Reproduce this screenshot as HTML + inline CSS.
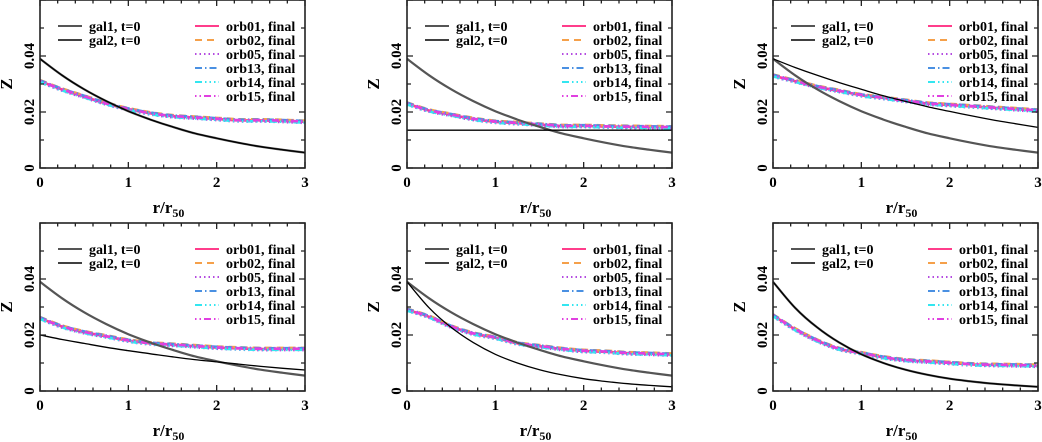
<!DOCTYPE html>
<html><head><meta charset="utf-8">
<style>
html,body{margin:0;padding:0;background:#fff;}
svg{display:block;}
text{font-family:"Liberation Serif",serif;fill:#000;}
</style></head>
<body>
<svg id="chart" width="1042" height="442" viewBox="0 0 1042 442" xmlns="http://www.w3.org/2000/svg"></svg>
<script>
// radii (r/r50) at which the values below are sampled
const radii = [0,0.25,0.5,0.75,1,1.25,1.5,1.75,2,2.25,2.5,2.75,3];
// gal1, t=0 model profiles (one per panel)
const gal1Vals = [
 [0.039,0.0331,0.0281,0.0239,0.0203,0.0173,0.0147,0.0124,0.0106,0.0090,0.0076,0.0065,0.0055],
 [0.039,0.0331,0.0281,0.0239,0.0203,0.0173,0.0147,0.0124,0.0106,0.0090,0.0076,0.0065,0.0055],
 [0.039,0.0331,0.0281,0.0239,0.0203,0.0173,0.0147,0.0124,0.0106,0.0090,0.0076,0.0065,0.0055],
 [0.039,0.0331,0.0281,0.0239,0.0203,0.0173,0.0147,0.0124,0.0106,0.0090,0.0076,0.0065,0.0055],
 [0.039,0.0331,0.0281,0.0239,0.0203,0.0173,0.0147,0.0124,0.0106,0.0090,0.0076,0.0065,0.0055],
 [0.039,0.0297,0.0227,0.0173,0.0131,0.0100,0.0076,0.0058,0.0044,0.0034,0.0026,0.0020,0.0015]
];
// gal2, t=0 model profiles
const gal2Vals = [
 [0.039,0.0331,0.0281,0.0239,0.0203,0.0173,0.0147,0.0124,0.0106,0.0090,0.0076,0.0065,0.0055],
 [0.0135,0.0135,0.0135,0.0135,0.0135,0.0135,0.0135,0.0135,0.0135,0.0135,0.0135,0.0135,0.0135],
 [0.039,0.0359,0.0331,0.0305,0.0281,0.0258,0.0238,0.0219,0.0202,0.0186,0.0171,0.0158,0.0145],
 [0.020,0.0184,0.0170,0.0156,0.0144,0.0133,0.0122,0.0112,0.0104,0.0096,0.0088,0.0081,0.0075],
 [0.039,0.0297,0.0227,0.0173,0.0131,0.0100,0.0076,0.0058,0.0044,0.0034,0.0026,0.0020,0.0015],
 [0.039,0.0297,0.0227,0.0173,0.0131,0.0100,0.0076,0.0058,0.0044,0.0034,0.0026,0.0020,0.0015]
];
// final orbit profiles (all orbits nearly coincide)
const orbVals = [
 [0.031,0.028,0.0255,0.023,0.021,0.0195,0.0185,0.018,0.0175,0.017,0.017,0.0168,0.0165],
 [0.023,0.0205,0.019,0.0175,0.0165,0.016,0.0155,0.015,0.015,0.0148,0.0147,0.0146,0.0145],
 [0.033,0.031,0.029,0.0275,0.026,0.025,0.024,0.023,0.0225,0.022,0.0215,0.021,0.0205],
 [0.026,0.023,0.021,0.0195,0.018,0.017,0.0165,0.016,0.0155,0.0152,0.015,0.015,0.015],
 [0.029,0.0265,0.023,0.0205,0.019,0.017,0.016,0.015,0.0143,0.014,0.0135,0.0133,0.013],
 [0.027,0.022,0.018,0.015,0.0135,0.012,0.011,0.0105,0.010,0.0095,0.0093,0.0092,0.009]
];
const orbNames = ["orb01, final","orb02, final","orb05, final","orb13, final","orb14, final","orb15, final"];
const orbOffsets = [0,0.0004,-0.0004,0.0003,-0.0003,0.0001];
const xTickLabels = ["0","1","2","3"];
const yTickLabels = ["0","0.02","0.04"];

const NS="http://www.w3.org/2000/svg";
const svg=document.getElementById('chart');
const orbColors=["#ff3d8b","#f5a04a","#b44be1","#4a90e2","#33e6f0","#e040e0"];
const orbDash=["","7,5","1.5,3","7,3,1.5,3","7,3,1.5,3,1.5,3,1.5,3","1.5,3,1.5,3,7,3"];
function el(tag,attrs,parent){const e=document.createElementNS(NS,tag);for(const k in attrs)e.setAttribute(k,attrs[k]);(parent||svg).appendChild(e);return e;}
function smooth(pts){
  let d='M'+pts[0][0].toFixed(1)+','+pts[0][1].toFixed(1);
  for(let i=0;i<pts.length-1;i++){
    const p0=pts[Math.max(0,i-1)],p1=pts[i],p2=pts[i+1],p3=pts[Math.min(pts.length-1,i+2)];
    const c1=[p1[0]+(p2[0]-p0[0])/6,p1[1]+(p2[1]-p0[1])/6];
    const c2=[p2[0]-(p3[0]-p1[0])/6,p2[1]-(p3[1]-p1[1])/6];
    d+=`C${c1[0].toFixed(1)},${c1[1].toFixed(1)} ${c2[0].toFixed(1)},${c2[1].toFixed(1)} ${p2[0].toFixed(1)},${p2[1].toFixed(1)}`;
  }
  return d;
}

const colX=[40,407,773], rowY=[0,223], W=265, H=168;
for(let p=0;p<6;p++){
  const x0=colX[p%3], y0=rowY[Math.floor(p/3)];
  const g=el('g',{});
  
  
  const sx=r=>x0+r/3*W, sy=z=>y0+H-z/0.06*H;
  orbNames.forEach((nm,i)=>{
    const d=smooth(radii.map((r,k)=>[sx(r),sy(orbVals[p][k]+orbOffsets[i])]));
    const pa=el('path',{d:d,fill:'none',stroke:orbColors[i],'stroke-width':2.6,'stroke-dasharray':orbDash[i]||'none'},g);
    
    
  });
  const l1=el('path',{d:smooth(radii.map((r,k)=>[sx(r),sy(gal1Vals[p][k])])),fill:'none',stroke:'#555','stroke-width':2.2},g);
  
  
  const l2=el('path',{d:smooth(radii.map((r,k)=>[sx(r),sy(gal2Vals[p][k])])),fill:'none',stroke:'#000','stroke-width':1.3},g);
  
  
  const fr=el('rect',{x:x0,y:y0,width:W,height:H,fill:'none',stroke:'#222','stroke-width':1.6},g);
  
  
  let t='';
  for(let i=0;i<=15;i++){const X=sx(i*0.2);const L=(i%5===0)?6:3.5;t+=`M${X},${y0+H}v${-L}M${X},${y0}v${L}`;}
  for(let i=0;i<=6;i++){const Y=sy(i*0.01);const L=(i%2===0)?6:4;t+=`M${x0},${Y}h${L}M${x0+W},${Y}h${-L}`;}
  el('path',{d:t,stroke:'#222','stroke-width':1.3,fill:'none'},g);
  xTickLabels.forEach((s,i)=>{const tx=el('text',{x:sx(i),y:y0+H+19,'font-size':15,'font-weight':'bold','text-anchor':'middle'},g);tx.textContent=s;
    
    });
  yTickLabels.forEach((s,i)=>{const Y=sy(i*0.02);const tx=el('text',{x:0,y:0,'font-size':15,'font-weight':'bold','text-anchor':'middle',transform:`translate(${x0-6},${Y}) rotate(-90)`},g);tx.textContent=s;
    
    });
  const xl=el('text',{x:x0+W/2-4,y:y0+H+45,'font-size':17,'font-weight':'bold','text-anchor':'middle'},g);
  xl.innerHTML='r/r<tspan font-size="12" dy="4">50</tspan>';
  
  
  const yl=el('text',{x:0,y:0,'font-size':17,'font-weight':'bold','text-anchor':'middle',transform:`translate(${x0-28},${y0+H/2}) rotate(-90)`},g);
  yl.textContent='Z';
  
  
  const ly=[26,40,54,68,82,96];
  [['gal1, t=0','#555',2],['gal2, t=0','#000',1.5]].forEach((e,i)=>{
    const lg=el('g',{},g);
    
    
    el('line',{x1:x0+18,x2:x0+42,y1:y0+ly[i],y2:y0+ly[i],stroke:e[1],'stroke-width':e[2]},lg);
    const tx=el('text',{x:x0+49,y:y0+ly[i]+5,'font-size':14,'font-weight':'bold'},lg);tx.textContent=e[0];
  });
  orbNames.forEach((nm,i)=>{
    const lg=el('g',{},g);
    
    
    el('line',{x1:x0+155,x2:x0+179,y1:y0+ly[i],y2:y0+ly[i],stroke:orbColors[i],'stroke-width':2,'stroke-dasharray':orbDash[i]||'none'},lg);
    const tx=el('text',{x:x0+186,y:y0+ly[i]+5,'font-size':14,'font-weight':'bold'},lg);tx.textContent=nm;
  });
}
</script>
</body></html>
